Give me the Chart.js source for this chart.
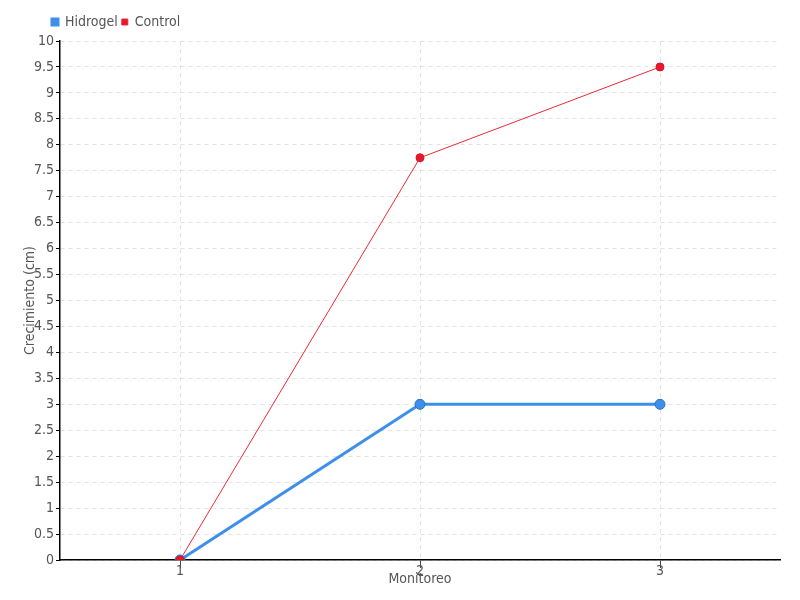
<!DOCTYPE html>
<html>
<head>
<meta charset="utf-8">
<script src="https://cdn.jsdelivr.net/npm/chart.js@4/dist/chart.umd.min.js"></script>
<style>
  html, body { margin: 0; padding: 0; background: #fff; }
  #wrap { width: 800px; height: 600px; }
</style>
</head>
<body>
<div id="wrap"><canvas id="chart"></canvas></div>
<script>
var monitoreo = ['1', '2', '3'];
var hidrogel = [0, 3, 3];
var control = [0, 7.75, 9.5];

var FONT = "'DejaVu Sans Condensed', 'Liberation Sans Narrow', 'Liberation Sans', sans-serif";

var ctx = document.getElementById('chart').getContext('2d');
var chart = new Chart(ctx, {
  type: 'line',
  data: {
    labels: monitoreo,
    datasets: [{
      label: 'Hidrogel',
      data: hidrogel,
      borderColor: '#3d8fea',
      backgroundColor: '#3d8fea',
      pointBorderColor: '#2c6fc4',
      pointBackgroundColor: '#3d8fea',
      borderWidth: 3,
      pointRadius: 5,
      pointBorderWidth: 1,
      tension: 0,
      fill: false
    }, {
      label: 'Control',
      data: control,
      borderColor: '#ec2a3a',
      backgroundColor: '#e8182a',
      pointBorderColor: '#d81525',
      pointBackgroundColor: '#e8182a',
      borderWidth: 1,
      pointRadius: 4,
      pointBorderWidth: 1,
      tension: 0,
      fill: false,
      order: -1
    }]
  },
  options: {
    responsive: true,
    maintainAspectRatio: false,
    animation: false,
    layout: { padding: { left: 22, right: 20, top: 13, bottom: 12 } },
    plugins: {
      tooltip: { enabled: false },
      legend: {
        position: 'top',
        align: 'start',
        labels: {
          boxWidth: 6,
          boxHeight: 6,
          padding: 4,
          color: '#555',
          font: { family: FONT, size: 14 },
          sort: function (a, b) { return a.datasetIndex - b.datasetIndex; }
        }
      }
    },
    scales: {
      x: {
        offset: true,
        grid: { offset: false, color: '#e2e2e2', tickColor: '#444', tickLength: 8, tickBorderDash: [] },
        border: { color: '#000', width: 1.5, dash: [4, 4] },
        ticks: { color: '#555', font: { family: FONT, size: 14 }, padding: -5 },
        title: { display: true, text: 'Monitoreo', color: '#555', font: { family: FONT, size: 14 }, padding: { top: 0, bottom: 0 } },
        afterFit: function (s) { s.height = 28; }
      },
      y: {
        min: 0,
        max: 10,
        grid: { color: '#e2e2e2', tickColor: '#000', tickLength: 4, tickBorderDash: [] },
        border: { color: '#000', width: 1.5, dash: [4, 4] },
        ticks: {
          stepSize: 0.5,
          color: '#555',
          font: { family: FONT, size: 14 },
          padding: 2,
          callback: function (v) { return String(Math.round(v * 10) / 10); }
        },
        title: { display: true, text: 'Crecimiento (cm)', color: '#555', font: { family: FONT, size: 14 }, padding: 0 },
        afterFit: function (s) { s.width = 38; }
      }
    }
  },
  plugins: [{
    id: 'legendShift',
    afterLayout: function (c) {
      c.legend.left += 26;
      c.legend.right += 26;
      c.legend.top -= 2;
      c.legend.bottom -= 2;
    }
  }]
});
</script>
</body>
</html>
